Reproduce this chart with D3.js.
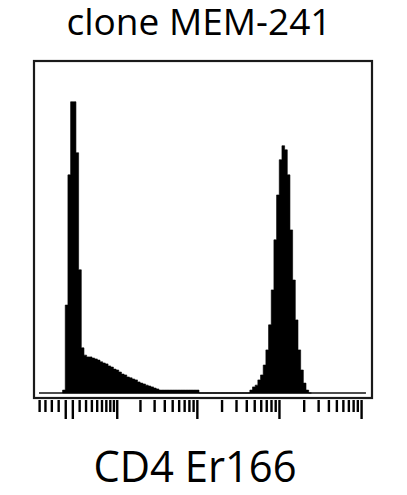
<!DOCTYPE html>
<html>
<head>
<meta charset="utf-8">
<script src="https://cdn.jsdelivr.net/npm/d3@7"></script>
<style>
  html, body { margin: 0; padding: 0; background: #fff; }
  svg { display: block; }
</style>
</head>
<body>
<svg id="chart"></svg>
<script>
// histogram counts, one value per bin (bins are in arcsinh units, cofactor 5)
const cofactor = 5;
const firstBin = -0.075;
const binWidth = 0.075;
const counts = [
  10, 302, 749, 1000, 1000, 825, 423, 155, 130, 124,
  124, 120, 117, 113, 107, 103, 100, 93, 89, 82,
  79, 72, 65, 62, 55, 52, 48, 45, 38, 34,
  31, 27, 24, 21, 17, 14, 10, 10, 10, 10,
  10, 10, 10, 10, 10, 10, 10, 10, 10, 10,
  10, 0, 0, 0, 0, 0, 0, 0, 0, 0,
  0, 0, 0, 0, 0, 0, 0, 0, 0, 0,
  10, 21, 27, 45, 62, 96, 148, 234, 354, 526,
  680, 801, 849, 835, 749, 560, 388, 251, 148, 79,
  34, 10, 0
];
// the zero line of the histogram runs over this range (arcsinh units)
const histRange = [-0.736, 8.43];

// axis ticks, in raw intensity
const majorTicks = [0, 1, 10, 100, 1000, 10000];
const minorTicks = [-4, -3, -2, -1,
  2, 3, 4, 5, 6, 7, 8, 9,
  20, 30, 40, 50, 60, 70, 80, 90,
  200, 300, 400, 500, 600, 700, 800, 900,
  2000, 3000, 4000, 5000, 6000, 7000, 8000, 9000];

const title = "clone MEM-241";
const xLabel = "CD4 Er166";

const W = 407, H = 495;
const box = {left: 34, right: 372, top: 61, bottom: 398};
const baseY = 393;

const tf = v => Math.asinh(v / cofactor);

const svg = d3.select("#chart")
  .attr("width", W)
  .attr("height", H);

const x = d3.scaleLinear()
  .domain([-0.876, 8.6])
  .range([box.left, box.right]);

const y = d3.scaleLinear()
  .domain([0, 1140])
  .range([baseY, box.top]);

// build step data, bins start at firstBin
const bins = counts.map((c, i) => ({t: firstBin + i * binWidth, c: c}));
bins.push({t: firstBin + counts.length * binWidth, c: 0});

// baseline
svg.append("line")
  .attr("x1", x(histRange[0]))
  .attr("x2", x(histRange[1]))
  .attr("y1", y(0))
  .attr("y2", y(0))
  .style("stroke", "#111")
  .style("stroke-width", 1.6);

const area = d3.area()
  .x(d => x(d.t))
  .y0(y(0))
  .y1(d => y(d.c))
  .curve(d3.curveStepAfter);

svg.append("path")
  .datum(bins)
  .attr("d", area)
  .style("fill", "#000")
  .style("stroke", "#000")
  .style("stroke-width", 0.6);

// frame
svg.append("rect")
  .attr("x", box.left)
  .attr("y", box.top)
  .attr("width", box.right - box.left)
  .attr("height", box.bottom - box.top)
  .style("fill", "none")
  .style("stroke", "#1a1a1a")
  .style("stroke-width", 2.2);

// tick combs under the frame
const minorAxis = svg.append("g")
  .attr("transform", "translate(0," + (box.bottom + 2) + ")")
  .call(d3.axisBottom(x).tickValues(minorTicks.map(tf)).tickSize(12).tickFormat(""));

const majorAxis = svg.append("g")
  .attr("transform", "translate(0," + (box.bottom + 2) + ")")
  .call(d3.axisBottom(x).tickValues(majorTicks.map(tf)).tickSize(19).tickFormat(""));

[minorAxis, majorAxis].forEach(g => {
  g.select(".domain").remove();
  g.selectAll(".tick line")
    .style("stroke", "#000")
    .style("stroke-width", 2.4);
});

// title and axis label
svg.append("text")
  .attr("x", 199)
  .attr("y", 35)
  .attr("text-anchor", "middle")
  .attr("textLength", 265)
  .attr("lengthAdjust", "spacingAndGlyphs")
  .style("font-family", "'Open Sans', sans-serif")
  .style("font-size", "36px")
  .style("fill", "#000")
  .text(title);

svg.append("text")
  .attr("x", 195)
  .attr("y", 481.5)
  .attr("text-anchor", "middle")
  .attr("textLength", 203)
  .attr("lengthAdjust", "spacingAndGlyphs")
  .style("font-family", "'Open Sans', sans-serif")
  .style("font-size", "44px")
  .style("fill", "#000")
  .text(xLabel);
</script>
</body>
</html>
